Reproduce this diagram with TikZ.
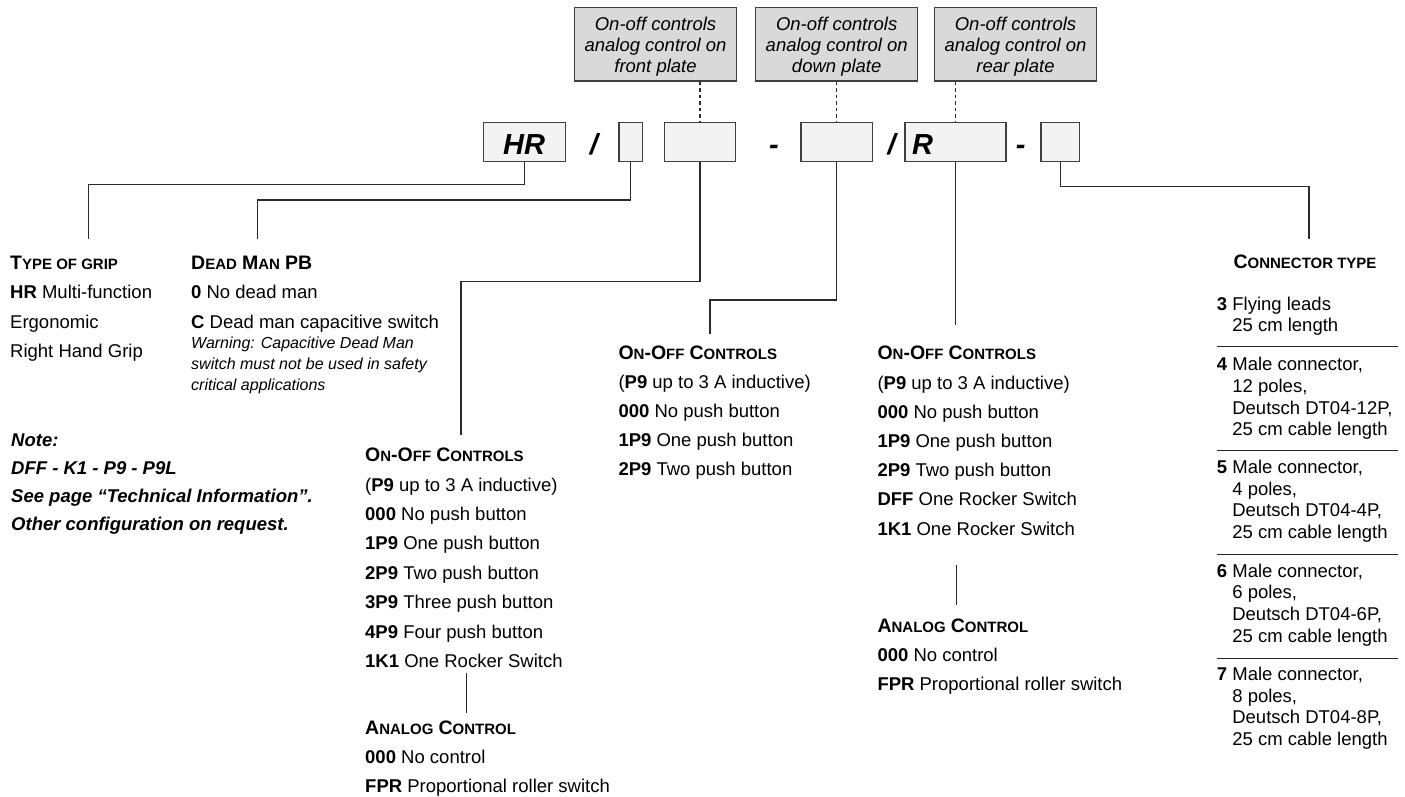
\documentclass[tikz,border=0pt]{standalone}
\usepackage{fontspec}
\setmainfont{Liberation Sans}
\definecolor{lc}{HTML}{2B2B2B}
\definecolor{bc}{HTML}{404040}
\definecolor{gf}{HTML}{D9D9D9}
\definecolor{cf}{HTML}{F3F3F3}
\newcommand\fsBody{\fontsize{18.5}{22}\selectfont}
\newcommand\fsWarn{\fontsize{16}{21}\selectfont\itshape}
\newcommand\fsGray{\fontsize{18.5}{21}\selectfont\itshape}
\newcommand\fsCode{\fontsize{29}{32}\selectfont\bfseries\itshape}
\newcommand\SCx[2]{{\fontsize{19.5}{22}\selectfont #1}{\fontsize{15}{18}\selectfont #2}}
\newcommand\OnOff{\bfseries\SCx{O}{N}\SCx{-O}{FF} \SCx{C}{ONTROLS}}
\newcommand\AnaCtl{\bfseries\SCx{A}{NALOG} \SCx{C}{ONTROL}}
\newcommand\Ind{\hphantom{\textbf{3}\ }}
\tikzset{
  ln/.style={draw=lc, line width=1.3pt},
  dsh/.style={draw=lc, line width=1.2pt, dash pattern=on 3.5pt off 3pt},
  txt/.style={anchor=base west, inner sep=0pt, font=\fsBody},
  warn/.style={anchor=base west, inner sep=0pt, font=\fsWarn},
  note/.style={anchor=base west, inner sep=0pt, font=\fsBody\bfseries\itshape},
  graybox/.style={draw=bc, fill=gf, line width=1.4pt, minimum width=162pt, minimum height=73.7pt, inner sep=0pt, align=center, font=\fsGray},
  codebox/.style={draw=bc, fill=cf, line width=1.5pt, minimum height=39pt, inner sep=0pt},
  codetxt/.style={anchor=base, inner sep=0pt, font=\fsCode},
}
\begin{document}
\begin{tikzpicture}[x=1pt,y=-1pt]
\useasboundingbox (0,0) rectangle (1405,796);
% gray header boxes
\node[graybox] (g1) at (655.5,44.15) {\rule{0pt}{19pt}On-off controls\\analog control on\\front plate};
\node[graybox] (g2) at (836.7,44.15) {\rule{0pt}{19pt}On-off controls\\analog control on\\down plate};
\node[graybox] (g3) at (1015.5,44.15) {\rule{0pt}{19pt}On-off controls\\analog control on\\rear plate};
% code boxes
\node[codebox, minimum width=82.4pt] (bHR) at (524.5,142.2) {};
\node[codetxt] (tHR) at (524,154) {HR};
\node[codetxt] (s1) at (594,154) {/};
\node[codebox, minimum width=23.3pt] (bDM) at (630.7,142.2) {};
\node[codebox, minimum width=71.4pt] (b3) at (700,142.2) {};
\node[codetxt] (s2) at (774,154) {-};
\node[codebox, minimum width=71.3pt] (b4) at (836.7,142.2) {};
\node[codetxt] (s3) at (891.7,154) {/};
\node[codebox, minimum width=101pt] (bR) at (955.5,142.2) {};
\node[codetxt, anchor=base west] (tR) at (912,154) {R};
\node[codetxt] (s4) at (1020.7,154) {-};
\node[codebox, minimum width=38.3pt] (bL) at (1060.2,142.2) {};
% dashed links
\draw[dsh] (b3.north |- g1.south) -- (b3.north);
\draw[dsh] (b4.north |- g2.south) -- (b4.north);
\draw[dsh] (bR.north |- g3.south) -- (bR.north);
% connector end points
\coordinate (tgEnd) at (88.3,239.3);
\coordinate (dmEnd) at (257.3,239.3);
\coordinate (c1End) at (461,435);
\coordinate (c2End) at (710,334.3);
\coordinate (c3End) at (955.5,325);
\coordinate (ctEnd) at (1309,239.3);
\draw[ln] (bHR.south) -- (bHR.south |- 0,184.3) -| (tgEnd);
\draw[ln] (bDM.south) -- (bDM.south |- 0,200) -| (dmEnd);
\draw[ln] (b3.south) -- (b3.south |- 0,281.7) -| (c1End);
\draw[ln] (b4.south) -- (b4.south |- 0,300) -| (c2End);
\draw[ln] (bR.south) -- (c3End);
\draw[ln] (bL.south) -- (bL.south |- 0,186.5) -| (ctEnd);
% type of grip
\node[txt] (tgH) at (10,269.3) {\bfseries\SCx{T}{YPE OF GRIP}};
\node[txt] (tg1) at (10,298.8) {\textbf{HR} Multi-function};
\node[txt] (tg2) at (10,328.1) {Ergonomic};
\node[txt] (tg3) at (10,357.3) {Right Hand Grip};
% dead man
\node[txt] (dmH) at (191,269.3) {\bfseries\SCx{D}{EAD} \SCx{M}{AN} {\fontsize{19.5}{22}\selectfont PB}};
\node[txt] (dm1) at (191,298.8) {\textbf{0} No dead man};
\node[txt] (dm2) at (191,328.1) {\textbf{C} Dead man capacitive switch};
\node[warn] (dw1) at (191,348.6) {Warning: Capacitive Dead Man};
\node[warn] (dw2) at (191,369.8) {switch must not be used in safety};
\node[warn] (dw3) at (191,390.8) {critical applications};
% note
\node[note] (n1) at (11,446) {Note:};
\node[note] (n2) at (11,474.3) {DFF - K1 - P9 - P9L};
\node[note] (n3) at (11,502.6) {See page “Technical Information”.};
\node[note] (n4) at (11,530.9) {Other configuration on request.};
% column 1
\node[txt] (c1H) at (365,461.7) {\OnOff};
\foreach \t [count=\i from 0] in {{(\textbf{P9} up to 3 A inductive)},{\textbf{000} No push button},{\textbf{1P9} One push button},{\textbf{2P9} Two push button},{\textbf{3P9} Three push button},{\textbf{4P9} Four push button},{\textbf{1K1} One Rocker Switch}}
  \node[txt] (c1L\i) at (365,{491.1+29.4*\i}) {\t};
\coordinate (a1top) at (466.7,673);
\coordinate (a1bot) at (466.7,713);
\draw[ln] (a1top) -- (a1bot);
\node[txt] (a1H) at (365,734) {\AnaCtl};
\node[txt] (a1L1) at (365,763.2) {\textbf{000} No control};
\node[txt] (a1L2) at (365,792.2) {\textbf{FPR} Proportional roller switch};
% column 2
\node[txt] (c2H) at (618.3,359.6) {\OnOff};
\foreach \t [count=\i from 0] in {{(\textbf{P9} up to 3 A inductive)},{\textbf{000} No push button},{\textbf{1P9} One push button},{\textbf{2P9} Two push button}}
  \node[txt] (c2L\i) at (618.3,{388.6+29.1*\i}) {\t};
% column 3
\node[txt] (c3H) at (877.3,359.8) {\OnOff};
\foreach \t [count=\i from 0] in {{(\textbf{P9} up to 3 A inductive)},{\textbf{000} No push button},{\textbf{1P9} One push button},{\textbf{2P9} Two push button},{\textbf{DFF} One Rocker Switch},{\textbf{1K1} One Rocker Switch}}
  \node[txt] (c3L\i) at (877.3,{389+29.2*\i}) {\t};
\coordinate (a3top) at (956.7,565);
\coordinate (a3bot) at (956.7,605);
\draw[ln] (a3top) -- (a3bot);
\node[txt] (a3H) at (877.3,632.7) {\AnaCtl};
\node[txt] (a3L1) at (877.3,661.7) {\textbf{000} No control};
\node[txt] (a3L2) at (877.3,690.7) {\textbf{FPR} Proportional roller switch};
% connector type
\node[txt, anchor=base] (ctH) at (1305,268) {\bfseries\SCx{C}{ONNECTOR TYPE}};
\node[txt] (k3a) at (1216.7,310.5) {\textbf{3} Flying leads};
\node[txt] (k3b) at (1216.7,331.5) {\Ind 25 cm length};
\foreach \n/\p/\d/\y in {4/12/12P/370.7, 5/4/4P/473.5, 6/6/6P/577, 7/8/8P/680.5} {
  \node[txt] (k\n a) at (1216.7,\y) {\textbf{\n} Male connector,};
  \node[txt] (k\n b) at (1216.7,{\y+21.7}) {\Ind \p\ poles,};
  \node[txt] (k\n c) at (1216.7,{\y+43.4}) {\Ind Deutsch DT04-\d,};
  \node[txt] (k\n d) at (1216.7,{\y+65.1}) {\Ind 25 cm cable length};
}
\foreach \y [count=\i] in {346.7,450.7,554.3,658.3} {
  \coordinate (sepL\i) at (1216.7,\y);
  \coordinate (sepR\i) at (1398.3,\y);
  \draw[ln] (sepL\i) -- (sepR\i);
}
\end{tikzpicture}
\end{document}
